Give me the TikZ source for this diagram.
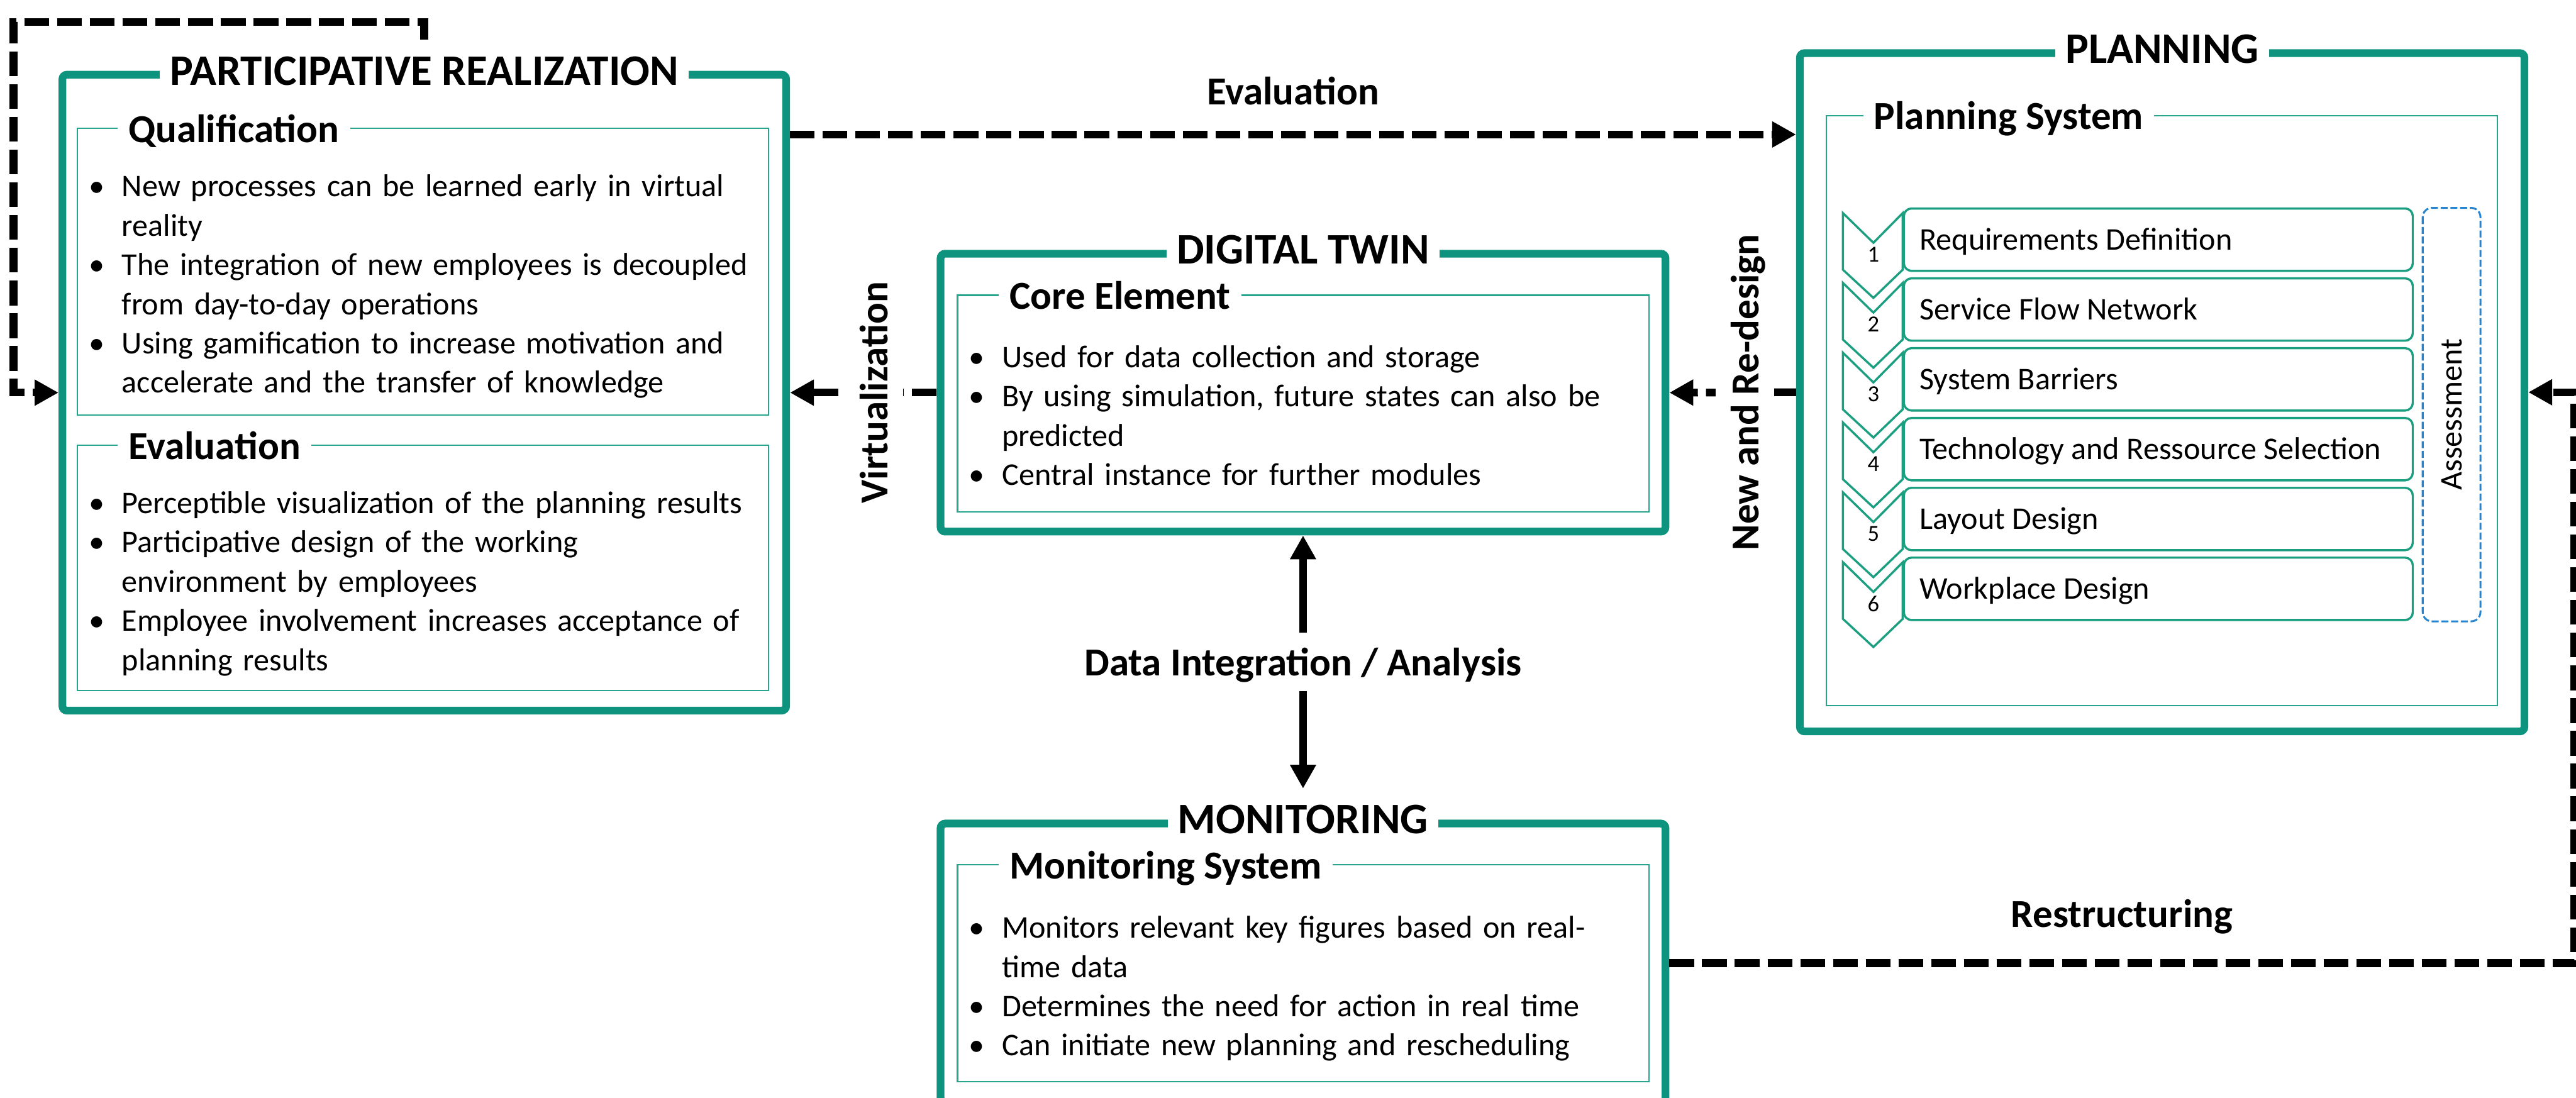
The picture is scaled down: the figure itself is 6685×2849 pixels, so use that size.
\documentclass[tikz,border=0pt]{standalone}
\usepackage{fontspec}
\setmainfont{Carlito}
\usepackage{tikz}
\usetikzlibrary{
  arrows.meta,
  calc,
  positioning,
}

\definecolor{boxteal}{HTML}{0E937F}
\definecolor{lineteal}{HTML}{27A48E}
\definecolor{stepteal}{HTML}{1C9F80}
\definecolor{assessblue}{HTML}{2784D0}

\newcommand{\bul}{\makebox[0.43cm][l]{\textbullet}}
\newcommand{\ind}{\hspace*{0.43cm}}

\begin{document}
\begin{tikzpicture}[
  x=0.005cm, y=-0.005cm,
  >={Triangle[length=0.31cm, width=0.32cm]},
  bigbox/.style={draw=boxteal, line width=0.1cm, rounded corners=0.06cm, inner sep=0},
  boxtitle/.style={fill=white, inner xsep=0.13cm, inner ysep=0.21cm, font=\fontsize{16.1}{19}\selectfont\bfseries},
  subbox/.style={draw=lineteal, line width=0.5pt, inner sep=0},
  subtitle/.style={fill=white, anchor=base west, inner xsep=0.14cm, inner ysep=0.1cm, font=\fontsize{14.65}{17}\selectfont\bfseries},
  bullets/.style={anchor=base west, inner sep=0, text width=9.5cm, align=left, font=\fontsize{11.67}{14.51}\selectfont},
  stepbox/.style={draw=stepteal, line width=0.8pt, rounded corners=0.1cm, outer sep=0, minimum height=0.81cm, text width=6.2cm, inner xsep=0.205cm, align=flush left, text height=0.26cm, text depth=0pt, font=\fontsize{11.67}{14}\selectfont},
  chevron/.style={draw=stepteal, line width=0.8pt},
  stepnum/.style={inner sep=0, font=\fontsize{8.5}{10}\selectfont},
  assess/.style={draw=assessblue, line width=0.7pt, dash pattern=on 2.6pt off 1pt, rounded corners=0.12cm, rotate=90, minimum width=5.37cm, minimum height=0.75cm, font=\fontsize{11.67}{14}\selectfont},
  dashflow/.style={line width=0.1cm, dash pattern=on 0.32cm off 0.105cm, ->},
  arlabel/.style={inner sep=0, text depth=0pt, font=\fontsize{14.65}{17}\selectfont\bfseries},
  vlabel/.style={fill=white, rotate=90, inner xsep=0, inner ysep=0.2cm, text depth=0pt, font=\fontsize{14.65}{17}\selectfont\bfseries}
]
\useasboundingbox (0,0) rectangle (6685,2849);

% participative realization
\node[bigbox, minimum width=9.4cm, minimum height=8.26cm] (pr) at (1101,1019) {};
\node[boxtitle] (prt) at (pr.north) {PARTICIPATIVE REALIZATION};
\node[subbox, minimum width=8.975cm, minimum height=3.72cm] (qual) at (1097.5,705) {};
\node[subtitle] at ([xshift=0.525cm, yshift=-0.19cm]qual.north west) {Qualification};
\node[bullets] at ([xshift=0.15cm, yshift=-0.895cm]qual.north west) {%
  \bul New processes can be learned early in virtual\\
  \ind reality\\
  \bul The integration of new employees is decoupled\\
  \ind from day-to-day operations\\
  \bul Using gamification to increase motivation and\\
  \ind accelerate and the transfer of knowledge};
\node[subbox, minimum width=8.975cm, minimum height=3.185cm] (eval) at (1097.5,1473.5) {};
\node[subtitle] at ([xshift=0.525cm, yshift=-0.19cm]eval.north west) {Evaluation};
\node[bullets] at ([xshift=0.15cm, yshift=-0.895cm]eval.north west) {%
  \bul Perceptible visualization of the planning results\\
  \bul Participative design of the working\\
  \ind environment by employees\\
  \bul Employee involvement increases acceptance of\\
  \ind planning results};

% digital twin
\node[bigbox, minimum width=9.415cm, minimum height=3.61cm] (dt) at (3381.5,1019) {};
\node[boxtitle] (dtt) at (dt.north) {DIGITAL TWIN};
\node[subbox, minimum width=8.98cm, minimum height=2.815cm] (core) at (3382,1047.5) {};
\node[subtitle] at ([xshift=0.54cm, yshift=-0.19cm]core.north west) {Core Element};
\node[bullets] at ([xshift=0.15cm, yshift=-0.945cm]core.north west) {%
  \bul Used for data collection and storage\\
  \bul By using simulation, future states can also be\\
  \ind predicted\\
  \bul Central instance for further modules};

% monitoring
\node[bigbox, minimum width=9.415cm, minimum height=3.625cm] (mon) at (3381.5,2499.5) {};
\node[boxtitle] (mont) at (mon.north) {MONITORING};
\node[subbox, minimum width=8.98cm, minimum height=2.82cm] (monsys) at (3382,2526) {};
\node[subtitle] at ([xshift=0.54cm, yshift=-0.19cm]monsys.north west) {Monitoring System};
\node[bullets] at ([xshift=0.15cm, yshift=-0.96cm]monsys.north west) {%
  \bul Monitors relevant key figures based on real-\\
  \ind time data\\
  \bul Determines the need for action in real time\\
  \bul Can initiate new planning and rescheduling};

% planning
\node[bigbox, minimum width=9.41cm, minimum height=8.81cm] (pl) at (5611,1018) {};
\node[boxtitle] (plt) at (pl.north) {PLANNING};
\node[subbox, minimum width=8.715cm, minimum height=7.665cm] (plsys) at (5609.5,1065.5) {};
\node[subtitle] at ([xshift=0.485cm, yshift=-0.19cm]plsys.north west) {Planning System};

\node[stepbox] (s1) at (5601,622) {Requirements Definition};
\node[stepbox, below=0.097cm of s1] (s2) {Service Flow Network};
\node[stepbox, below=0.097cm of s2] (s3) {System Barriers};
\node[stepbox, below=0.097cm of s3] (s4) {Technology and Ressource Selection};
\node[stepbox, below=0.097cm of s4] (s5) {Layout Design};
\node[stepbox, below=0.097cm of s5] (s6) {Workplace Design};
\foreach \i in {1,...,6} {
  \draw[chevron] ($(s\i.north west)+(-158,12)$) -- ++(79,77) -- ++(76,-77)
    -- ++(0,147) -- ++(-76,73) -- ++(-79,-73) -- cycle;
  \node[stepnum] at ($(s\i.north west)+(-79,120)$) {\i};
}
\node[assess] (as) at (6362,1076) {Assessment};

% connections
\coordinate (evy) at (0,349);
\coordinate (rx) at (6681,0);
\coordinate (lx) at (35,57);
\draw[dashflow] (pr.east |- evy) -- node[arlabel, above=0.34cm] {Evaluation} (pl.west |- evy);
\draw[dashflow] (dt.west) -- node[vlabel, pos=0.43] {Virtualization} (pr.east);
\draw[dashflow] (pl.west) -- node[vlabel, pos=0.404] {New and Re-design} (dt.east);
\draw[line width=0.1cm, <->] (dt.south) -- node[arlabel, fill=white, inner ysep=0.2cm] {Data Integration / Analysis} (mont.north);
\draw[dashflow] (mon.east) -- node[arlabel, above=0.415cm] {Restructuring} (mon.east -| rx) |- (pl.east);
\draw[dashflow] (prt.north) |- (lx) |- (pr.west);
\end{tikzpicture}
\end{document}
